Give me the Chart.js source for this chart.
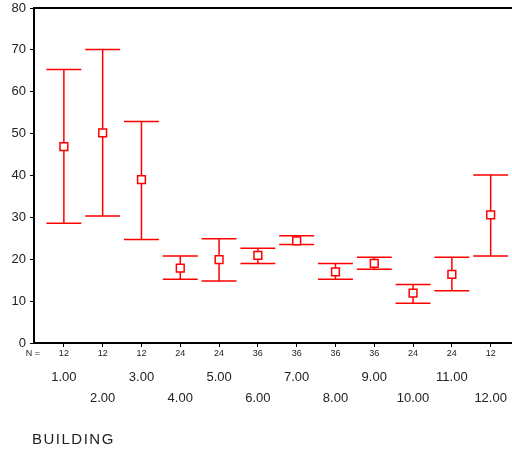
<!DOCTYPE html>
<html>
<head>
<meta charset="utf-8">
<script src="https://cdn.jsdelivr.net/npm/chart.js@4.4.1/dist/chart.umd.min.js"></script>
<style>
  body { margin: 0; background: #fff; }
  canvas { display: block; }
</style>
</head>
<body>
<canvas id="chart" width="512" height="453"></canvas>
<script>
// data
var categories = ["1.00", "2.00", "3.00", "4.00", "5.00", "6.00", "7.00", "8.00", "9.00", "10.00", "11.00", "12.00"];
var nCounts = [12, 12, 12, 24, 24, 36, 36, 36, 36, 24, 24, 12];
var means = [46.9, 50.2, 39.0, 17.9, 19.9, 20.9, 24.4, 17.0, 19.0, 11.9, 16.4, 30.6];
var lower = [28.6, 30.3, 24.7, 15.2, 14.8, 19.0, 23.5, 15.2, 17.6, 9.5, 12.5, 20.8];
var upper = [65.3, 70.1, 52.9, 20.8, 24.9, 22.6, 25.6, 19.0, 20.5, 14.0, 20.5, 40.1];
var yTicks = [0, 10, 20, 30, 40, 50, 60, 70, 80];
var axisTitle = "BUILDING";

var red = "#ff0000";
var textColor = "#222";
var fontName = "'Liberation Sans', Arial, sans-serif";

// error bars (drawn under the square markers)
var errorBars = {
    id: "errorBars",
    beforeDatasetsDraw: function (chart) {
        var ctx = chart.ctx;
        var xs = chart.scales.x, ys = chart.scales.y;
        var half = xs.getPixelForValue(1.45) - xs.getPixelForValue(1);
        ctx.save();
        ctx.strokeStyle = red;
        ctx.lineWidth = 1.5;
        for (var i = 0; i < means.length; i++) {
            var x = xs.getPixelForValue(i + 1);
            var yt = ys.getPixelForValue(upper[i]);
            var yb = ys.getPixelForValue(lower[i]);
            ctx.beginPath();
            ctx.moveTo(x, yt); ctx.lineTo(x, yb);
            ctx.moveTo(x - half, yt); ctx.lineTo(x + half, yt);
            ctx.moveTo(x - half, yb); ctx.lineTo(x + half, yb);
            ctx.stroke();
        }
        ctx.restore();
    }
};

// top frame line, N row, staggered category labels, axis title
var extras = {
    id: "extras",
    afterDraw: function (chart) {
        var ctx = chart.ctx;
        var a = chart.chartArea;
        var xs = chart.scales.x;
        ctx.save();
        ctx.strokeStyle = "#000";
        ctx.lineWidth = 2;
        ctx.beginPath();
        ctx.moveTo(a.left - 1, a.top);
        ctx.lineTo(a.right, a.top);
        ctx.stroke();

        ctx.fillStyle = textColor;
        ctx.textBaseline = "middle";
        ctx.font = "9px " + fontName;
        ctx.textAlign = "right";
        ctx.fillText("N =", a.left + 6, a.bottom + 11);
        ctx.textAlign = "center";
        for (var i = 0; i < categories.length; i++) {
            var x = xs.getPixelForValue(i + 1);
            ctx.font = "9px " + fontName;
            ctx.fillText(String(nCounts[i]), x, a.bottom + 11);
            ctx.font = "13px " + fontName;
            ctx.fillText(categories[i], x, a.bottom + (i % 2 === 0 ? 34 : 55));
        }
        ctx.textAlign = "left";
        ctx.font = "15px " + fontName;
        ctx.letterSpacing = "1.5px";
        ctx.fillText(axisTitle, a.left - 2, a.bottom + 97);
        ctx.restore();
    }
};

var chart = new Chart(document.getElementById("chart"), {
    type: "scatter",
    data: {
        datasets: [{
            data: means.map(function (m, i) { return { x: i + 1, y: m }; }),
            pointStyle: "rect",
            radius: 5.5,
            hoverRadius: 5.5,
            borderWidth: 1.5,
            borderColor: red,
            backgroundColor: "#fff"
        }]
    },
    options: {
        responsive: false,
        animation: false,
        events: [],
        layout: { autoPadding: false, padding: { top: 8, right: 0, left: 0, bottom: 0 } },
        plugins: { legend: { display: false }, tooltip: { enabled: false } },
        scales: {
            x: {
                type: "linear",
                min: 0.23,
                max: 12.55,
                afterBuildTicks: function (s) {
                    s.ticks = categories.map(function (c, i) { return { value: i + 1 }; });
                },
                afterFit: function (s) {
                    s.height = 110;
                    s.paddingLeft = 0;
                    s.paddingRight = 0;
                },
                ticks: { autoSkip: false, callback: function () { return ""; } },
                grid: { drawOnChartArea: false, tickLength: 4, color: "#000" },
                border: { color: "#000", width: 2 }
            },
            y: {
                min: 0,
                max: 80,
                afterBuildTicks: function (s) {
                    s.ticks = yTicks.map(function (v) { return { value: v }; });
                },
                afterFit: function (s) {
                    s.width = 34;
                    s.paddingTop = 0;
                    s.paddingBottom = 0;
                },
                ticks: { color: textColor, padding: 4, font: { family: fontName, size: 13 } },
                grid: { drawOnChartArea: false, tickLength: 4, color: "#000" },
                border: { color: "#000", width: 2 }
            }
        }
    },
    plugins: [errorBars, extras]
});
</script>
</body>
</html>
